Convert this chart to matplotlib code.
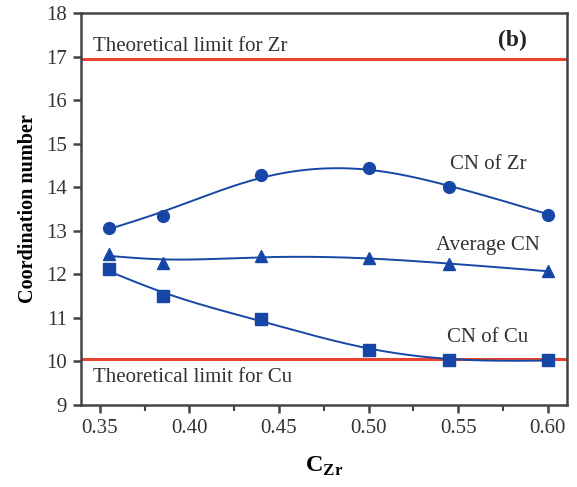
import numpy as np
import matplotlib
matplotlib.use("Agg")
import matplotlib.pyplot as plt

plt.rcParams['font.family'] = ['Liberation Serif', 'DejaVu Serif']
plt.rcParams['mathtext.fontset'] = 'custom'
plt.rcParams['mathtext.rm'] = 'Liberation Serif'
plt.rcParams['mathtext.bf'] = 'Liberation Serif:bold'

# Data
c_zr = [0.355, 0.385, 0.44, 0.50, 0.545, 0.60]
cn_zr = [13.07, 13.34, 14.28, 14.44, 14.00, 13.37]
cn_avg = [12.47, 12.26, 12.43, 12.37, 12.24, 12.07]
cn_cu = [12.12, 11.51, 10.98, 10.27, 10.04, 10.04]
limit_zr = 16.94
limit_cu = 10.05
x_ticks = [0.35, 0.40, 0.45, 0.50, 0.55, 0.60]
y_ticks = [9, 10, 11, 12, 13, 14, 15, 16, 17, 18]


def smoothing_spline(xs, ys, alpha, n=400):
    """Natural cubic smoothing spline (Reinsch) drawn through the data."""
    x = np.asarray(xs, float)
    y = np.asarray(ys, float)
    m = len(x)
    h = np.diff(x)
    Q = np.zeros((m, m - 2))
    R = np.zeros((m - 2, m - 2))
    for j in range(m - 2):
        i = j + 1
        Q[i - 1, j] = 1 / h[i - 1]
        Q[i, j] = -1 / h[i - 1] - 1 / h[i]
        Q[i + 1, j] = 1 / h[i]
        R[j, j] = (h[i - 1] + h[i]) / 3
        if j + 1 < m - 2:
            R[j, j + 1] = R[j + 1, j] = h[i] / 6
    gam = np.linalg.solve(R + alpha * Q.T @ Q, Q.T @ y)
    g = y - alpha * Q @ gam
    G = np.concatenate([[0], gam, [0]])
    xx = np.linspace(x[0], x[-1], n)
    idx = np.clip(np.searchsorted(x, xx, side='right') - 1, 0, m - 2)
    x0, x1 = x[idx], x[idx + 1]
    hh = x1 - x0
    a = xx - x0
    b = x1 - xx
    yy = (a * g[idx + 1] + b * g[idx]) / hh - a * b / 6 * (
        (1 + a / hh) * G[idx + 1] + (1 + b / hh) * G[idx])
    return xx, yy


fig = plt.figure(figsize=(5.77, 4.87), dpi=100)
ax = fig.add_axes([0.1404, 0.1684, 0.982 - 0.1404, 0.9733 - 0.1684])

blue = '#1747a6'
red = '#e8432e'

ax.axhline(limit_zr, color=red, lw=2.2, zorder=2)
ax.axhline(limit_cu, color=red, lw=2.2, zorder=2)

for ys, mk, ms in [(cn_zr, 'o', 8.5), (cn_avg, '^', 9), (cn_cu, 's', 8)]:
    sx, sy = smoothing_spline(c_zr, ys, 1e-5)
    ax.plot(sx, sy, color=blue, lw=1.4, zorder=3)
    ax.plot(c_zr, ys, linestyle='none', marker=mk, ms=ms, color=blue, zorder=4)

ax.set_xlim(0.3395, 0.6105)
ax.set_ylim(9, 18)
ax.set_xticks(x_ticks)
ax.set_xticklabels([f'{v:.2f}' for v in x_ticks])
ax.set_xticks(np.arange(0.375, 0.6, 0.05), minor=True)
ax.set_yticks(y_ticks)
ax.set_yticklabels([str(v) for v in y_ticks])

for s in ax.spines.values():
    s.set_linewidth(1.8)
    s.set_color('#444444')
ax.tick_params(axis='both', which='major', direction='out', length=6, width=1.8,
               color='#444444', labelsize=15, labelcolor='#333333', pad=4)
ax.tick_params(axis='x', which='minor', direction='out', length=4, width=1.5, color='#444444')

ax.set_ylabel('Coordination number', fontsize=14.5, fontweight='bold', labelpad=6)
ax.set_xlabel(r'$\mathbf{C}_{\mathbf{Zr}}$', fontsize=17.5, labelpad=12)

tc = '#333333'
fs = 15
ax.text(0.3462, 17.23, 'Theoretical limit for Zr', fontsize=fs, color=tc, va='center', ha='left')
ax.text(0.3462, 9.63, 'Theoretical limit for Cu', fontsize=fs, color=tc, va='center', ha='left')
ax.text(0.5805, 17.38, '(b)', fontsize=17, fontweight='bold', color='#222222', va='center', ha='center')
ax.text(0.5666, 14.53, 'CN of Zr', fontsize=fs, color=tc, va='center', ha='center')
ax.text(0.5666, 12.66, 'Average CN', fontsize=fs, color=tc, va='center', ha='center')
ax.text(0.5666, 10.56, 'CN of Cu', fontsize=fs, color=tc, va='center', ha='center')

fig.savefig('out.png', dpi=100)
